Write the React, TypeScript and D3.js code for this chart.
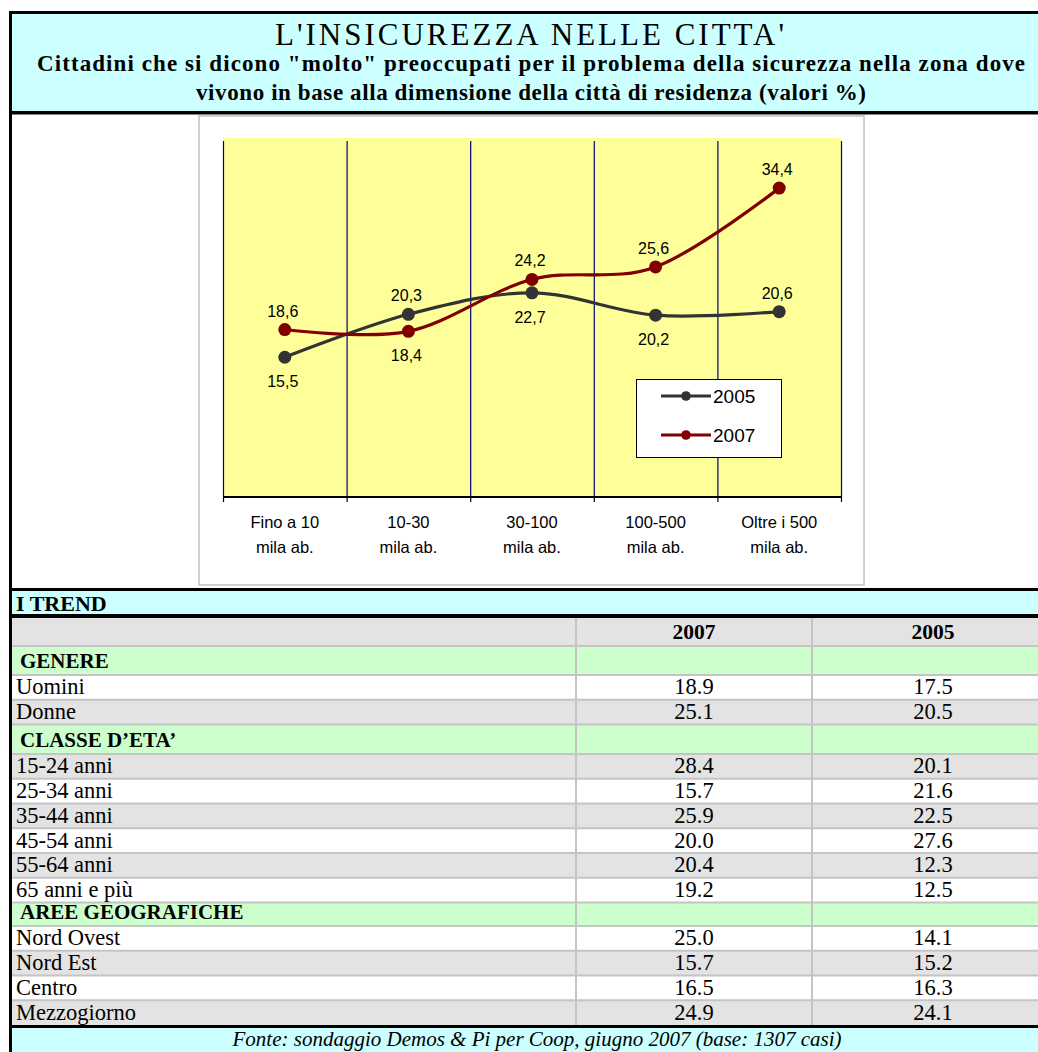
import React from 'react';
import * as d3 from 'd3';

// ---- chart data: city size vs share "molto" preoccupati ----
const categoryLines: string[][] = [
  ['Fino a 10', 'mila ab.'],
  ['10-30', 'mila ab.'],
  ['30-100', 'mila ab.'],
  ['100-500', 'mila ab.'],
  ['Oltre i 500', 'mila ab.'],
];
const seriesNames = ['2005', '2007'];
const values2005 = [15.5, 20.3, 22.7, 20.2, 20.6];
const values2007 = [18.6, 18.4, 24.2, 25.6, 34.4];
const yTicks = [0, 40];

// ---- trend table ----
const tableColumns = ['2007', '2005'];
const sectionTitles = ['GENERE', 'CLASSE D\u2019ETA\u2019', 'AREE GEOGRAFICHE'];
const genereLabels = ['Uomini', 'Donne'];
const genere2007 = [18.9, 25.1];
const genere2005 = [17.5, 20.5];
const etaLabels = ['15-24 anni', '25-34 anni', '35-44 anni', '45-54 anni', '55-64 anni', '65 anni e più'];
const eta2007 = [28.4, 15.7, 25.9, 20.0, 20.4, 19.2];
const eta2005 = [20.1, 21.6, 22.5, 27.6, 12.3, 12.5];
const areeLabels = ['Nord Ovest', 'Nord Est', 'Centro', 'Mezzogiorno'];
const aree2007 = [25.0, 15.7, 16.5, 24.9];
const aree2005 = [14.1, 15.2, 16.3, 24.1];

const titleText = "L'INSICUREZZA NELLE CITTA'";
const subtitleLines = [
  'Cittadini che si dicono "molto" preoccupati per il problema della sicurezza nella zona dove',
  'vivono  in base alla dimensione della città di residenza (valori %)',
];
const trendTitle = 'I TREND';
const sourceText = 'Fonte: sondaggio Demos & Pi per Coop, giugno 2007 (base: 1307 casi)';

// ---- styling ----
const CYAN = '#CCFFFF';
const GREEN = '#CCFFCC';
const ROW_GRAY = '#E3E3E3';
const SEP = '#C4C4C4';
const PLOT_YELLOW = '#FFFF99';
const GRID_NAVY = '#000080';
const COLOR_2005 = '#333333';
const COLOR_2007 = '#800000';
const SERIF = '"Liberation Serif", "Times New Roman", serif';
const SANS = '"Liberation Sans", Arial, sans-serif';

const W = 1038;
const H = 1052;
const BOX_R = 1052;
const TABLE_FONT = 22.5;

type Row = { kind: 'section' | 'data'; label: string; v07?: number; v05?: number };

function buildRows(): Row[] {
  const groups: [string, string[], number[], number[]][] = [
    [sectionTitles[0], genereLabels, genere2007, genere2005],
    [sectionTitles[1], etaLabels, eta2007, eta2005],
    [sectionTitles[2], areeLabels, aree2007, aree2005],
  ];
  const rows: Row[] = [];
  groups.forEach(([t, labels, a, b]) => {
    rows.push({ kind: 'section', label: t });
    labels.forEach((l, i) => rows.push({ kind: 'data', label: l, v07: a[i], v05: b[i] }));
  });
  return rows;
}

const comma = (v: number) => d3.format('.1f')(v).replace('.', ',');
const dot = d3.format('.1f');

function Chart() {
  const plot = { left: 223, right: 841, top: 138, bottom: 497 };
  const idx = categoryLines.map((_, i) => i);
  const x = d3.scaleBand<number>().domain(idx).range([plot.left, plot.right]);
  const cx = (i: number) => (x(i) as number) + x.bandwidth() / 2;
  const y = d3.scaleLinear().domain([yTicks[0], yTicks[1]]).range([plot.bottom - 1, plot.top]);
  const bounds = d3.range(idx.length + 1).map((i) => plot.left + i * x.step());

  const line = d3
    .line<number>()
    .x((_, i) => cx(i))
    .y((d) => y(d))
    .curve(d3.curveCatmullRom.alpha(0));

  const series = [
    { name: seriesNames[0], values: values2005, other: values2007, color: COLOR_2005 },
    { name: seriesNames[1], values: values2007, other: values2005, color: COLOR_2007 },
  ];

  // lower value sits under its marker when the other series is close by
  const labelBelow = (v: number, o: number) => v < o && o - v < 10;

  return (
    <g>
      <rect x={199} y={116} width={665} height={469} fill="#fff" stroke="#C0C0C0" strokeWidth={1.5} />
      <rect x={plot.left} y={plot.top} width={plot.right - plot.left} height={plot.bottom - plot.top} fill={PLOT_YELLOW} />
      {bounds.map((bx, i) => (
        <line key={'g' + i} x1={bx + 0.5} x2={bx + 0.5} y1={plot.top + 3} y2={plot.bottom} stroke={GRID_NAVY} strokeWidth={1.2} />
      ))}
      <line x1={plot.left} x2={plot.right + 1} y1={plot.bottom} y2={plot.bottom} stroke="#000" strokeWidth={1.8} />
      {bounds.map((bx, i) => (
        <line key={'t' + i} x1={bx + 0.5} x2={bx + 0.5} y1={plot.bottom} y2={plot.bottom + 5} stroke="#000" strokeWidth={1.2} />
      ))}
      {categoryLines.map((ls, i) => (
        <text key={'c' + i} x={cx(i)} textAnchor="middle" fontFamily={SANS} fontSize={16.5} fill="#000">
          <tspan x={cx(i)} y={528}>{ls[0]}</tspan>
          <tspan x={cx(i)} y={553}>{ls[1]}</tspan>
        </text>
      ))}
      {series.map((s) => (
        <path key={'p' + s.name} d={line(s.values) as string} fill="none" stroke={s.color} strokeWidth={3.2} strokeLinejoin="round" />
      ))}
      {series.map((s) =>
        s.values.map((v, i) => (
          <circle key={s.name + 'm' + i} cx={cx(i)} cy={y(v)} r={6.5} fill={s.color} />
        ))
      )}
      {series.map((s) =>
        s.values.map((v, i) => {
          const below = labelBelow(v, s.other[i]);
          return (
            <text
              key={s.name + 'l' + i}
              x={cx(i) - 2}
              y={y(v) + (below ? 30 : -13)}
              textAnchor="middle"
              fontFamily={SANS}
              fontSize={16}
              fill="#000"
            >
              {comma(v)}
            </text>
          );
        })
      )}
      <g>
        <rect x={636.5} y={379.5} width={145} height={78} fill="#fff" stroke="#000" strokeWidth={1} />
        {series.map((s, k) => {
          const ly = 396 + k * 39;
          return (
            <g key={'lg' + s.name}>
              <line x1={661} x2={711} y1={ly} y2={ly} stroke={s.color} strokeWidth={3} />
              <circle cx={686} cy={ly} r={4.8} fill={s.color} />
              <text x={713} y={ly + 7} fontFamily={SANS} fontSize={19} fill="#000">
                {s.name}
              </text>
            </g>
          );
        })}
      </g>
    </g>
  );
}

function Table() {
  const rows = buildRows();
  const top = 618;
  const headerH = 28;
  const sectionH = [29, 29.5, 23.5];
  const dataH = 24.75;
  const colSep = [576, 812];
  const colCenter = [694, 933];

  let cursor = top + headerH;
  let secIdx = 0;
  const laid = rows.map((r, i) => {
    const h = r.kind === 'section' ? sectionH[secIdx++] : dataH;
    const y0 = cursor;
    cursor += h;
    return { ...r, y0, y1: cursor, idx: i + 1 };
  });
  const bottom = cursor;

  return (
    <g>
      <rect x={12} y={top} width={BOX_R - 12} height={headerH} fill={ROW_GRAY} />
      {tableColumns.map((c, k) => (
        <text key={'h' + c} x={colCenter[k]} y={top + headerH - 7} textAnchor="middle" fontFamily={SERIF} fontWeight="bold" fontSize={21.5}>
          {c}
        </text>
      ))}
      {laid.map((r, i) => (
        <rect
          key={'r' + i}
          x={12}
          y={r.y0}
          width={BOX_R - 12}
          height={r.y1 - r.y0}
          fill={r.kind === 'section' ? GREEN : r.idx % 2 === 1 ? ROW_GRAY : '#fff'}
        />
      ))}
      {laid.map((r, i) => (
        <line key={'s' + i} x1={12} x2={BOX_R} y1={r.y0} y2={r.y0} stroke={SEP} strokeWidth={2} />
      ))}
      {colSep.map((cxs, k) => (
        <line key={'v' + k} x1={cxs} x2={cxs} y1={top} y2={bottom} stroke={SEP} strokeWidth={2} />
      ))}
      {laid.map((r, i) =>
        r.kind === 'section' ? (
          <text key={'t' + i} x={20} y={r.y1 - 7} fontFamily={SERIF} fontWeight="bold" fontSize={21}>
            {r.label}
          </text>
        ) : (
          <g key={'t' + i}>
            <text x={16} y={r.y1 - 5.5} fontFamily={SERIF} fontSize={TABLE_FONT}>
              {r.label}
            </text>
            <text x={colCenter[0]} y={r.y1 - 5.5} textAnchor="middle" fontFamily={SERIF} fontSize={TABLE_FONT}>
              {dot(r.v07 as number)}
            </text>
            <text x={colCenter[1]} y={r.y1 - 5.5} textAnchor="middle" fontFamily={SERIF} fontSize={TABLE_FONT}>
              {dot(r.v05 as number)}
            </text>
          </g>
        )
      )}
      <rect x={10} y={bottom} width={BOX_R} height={3} fill="#000" />
    </g>
  );
}

export default function App() {
  return (
    <svg
      width={W}
      height={H}
      viewBox={`0 0 ${W} ${H}`}
      style={{ position: 'absolute', left: 0, top: 0, background: '#fff' }}
    >
      {/* title band */}
      <rect x={12} y={14} width={BOX_R} height={97} fill={CYAN} />
      <text x={531} y={45} textAnchor="middle" fontFamily={SERIF} fontSize={31} letterSpacing={3} fill="#000">
        {titleText}
      </text>
      <text x={531} y={71} textAnchor="middle" fontFamily={SERIF} fontWeight="bold" fontSize={23} textLength={988} lengthAdjust="spacing">
        {subtitleLines[0]}
      </text>
      <text x={531} y={100} textAnchor="middle" fontFamily={SERIF} fontWeight="bold" fontSize={23} textLength={670} lengthAdjust="spacing">
        {subtitleLines[1]}
      </text>
      <rect x={10} y={111} width={BOX_R} height={3.5} fill="#000" />

      <Chart />

      {/* trend section header */}
      <rect x={10} y={588} width={BOX_R} height={3} fill="#000" />
      <rect x={12} y={591} width={BOX_R} height={23} fill={CYAN} />
      <text x={16} y={611} fontFamily={SERIF} fontWeight="bold" fontSize={22} fill="#000">
        {trendTitle}
      </text>
      <rect x={10} y={614} width={BOX_R} height={4} fill="#000" />

      <Table />

      {/* source band */}
      <rect x={12} y={1028} width={BOX_R} height={30} fill={CYAN} />
      <text x={537} y={1046} textAnchor="middle" fontFamily={SERIF} fontStyle="italic" fontSize={21} fill="#000">
        {sourceText}
      </text>

      {/* outer frame */}
      <rect x={10.5} y={12.5} width={BOX_R} height={H + 10} fill="none" stroke="#000" strokeWidth={3} />
    </svg>
  );
}
